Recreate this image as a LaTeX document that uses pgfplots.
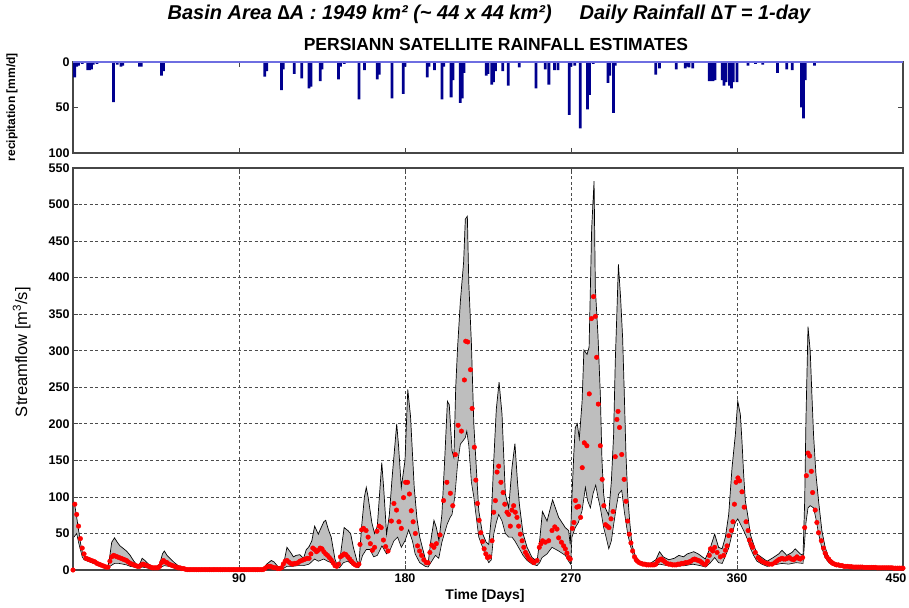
\documentclass[border=0pt]{standalone}
\usepackage{fontspec}
\setmainfont{Liberation Sans}
\setsansfont{Liberation Sans}
\usepackage{pgfplots}
\pgfplotsset{compat=1.18}
\usepgfplotslibrary{fillbetween}
\definecolor{barblue}{RGB}{0,0,143}
\definecolor{baseblue}{RGB}{110,110,225}
\definecolor{bandgray}{RGB}{190,190,190}
\definecolor{axgray}{RGB}{70,70,70}

\begin{document}
\begin{tikzpicture}
% header
\node at (489pt,593pt) {\bfseries\itshape\fontsize{20}{20}\selectfont Basin Area ∆A : 1949 km² (\textasciitilde{} 44 x 44 km²)\hspace{28pt}Daily Rainfall ∆T = 1-day};

% rainfall panel
\begin{axis}[
  at={(73pt,454pt)},anchor=south west,scale only axis,
  width=830pt,height=91pt,
  xmin=0,xmax=450,ymin=0,ymax=100,y dir=reverse,
  xtick={90,180,270,360},xticklabels={},
  ytick={0,50,100},
  tick align=inside,major tick length=5pt,
  tick style={axgray,line width=0.8pt},
  axis line style={axgray,line width=1.1pt},
  /pgf/number format/assume math mode=true,
  tick label style={font=\bfseries\fontsize{12.5}{13}\selectfont},
  ylabel={recipitation [mm/d]},
  ylabel style={font=\bfseries\fontsize{12}{12}\selectfont,at={(axis description cs:-0.0735,0.505)},anchor=center},
  title={PERSIANN SATELLITE RAINFALL ESTIMATES},
  title style={font=\bfseries\fontsize{17.5}{17.5}\selectfont,at={(axis description cs:0.5096,1)},anchor=center,yshift=12pt},
]
\addplot[ybar,bar width=1.5,fill=barblue,draw=none] coordinates {
(0,17) (1,17) (2,5) (3,4) (5,2) (8,9) (9,9) (10,8) (11,3) (13,2) (15,1) (18,1)
(22,44) (24,3) (26,5) (27,4) (36,5) (37,5) (48,15) (49,10)
(104,16) (105,10) (113,31) (114,8) (120,13) (124,18) (128,29) (129,27) (134,21) (135,8)
(144,19) (145,5) (147,2) (155,41) (158,9) (165,19) (166,14) (173,40) (179,35) (180,5)
(192,17) (193,5) (196,9) (200,41) (201,5) (205,39) (206,20) (210,45) (211,40) (212,12)
(224,15) (225,13) (227,25) (228,22) (229,10) (233,10) (236,26) (242,6) (251,29) (256,8)
(258,25) (261,9) (263,9) (269,58) (270,5) (272,4) (275,73) (279,52) (280,36) (282,2)
(290,23) (291,15) (293,56) (294,4) (316,14) (318,7) (327,8) (332,7) (333,5) (334,6) (336,7)
(345,21) (346,21) (347,21) (348,20) (352,20) (353,26) (354,22) (356,26) (357,29) (358,22) (360,22)
(366,4) (370,2) (374,3) (382,12) (387,8) (390,9) (395,50) (396,62) (397,20) (402,4)
};
\addplot[baseblue,line width=1.1pt,no marks] coordinates {(0,0) (450,0)};
\end{axis}

% streamflow panel
\begin{axis}[
  set layers,
  at={(73pt,37pt)},anchor=south west,scale only axis,
  width=830pt,height=402pt,
  xmin=0,xmax=450,ymin=0,ymax=550,
  xtick={90,180,270,360},
  extra x ticks={450},
  extra x tick style={grid=none,xticklabel style={xshift=-7pt}},
  ytick={0,50,100,150,200,250,300,350,400,450,500,550},
  grid=major,
  major grid style={black!70,dash pattern=on 3pt off 2.5pt,line width=0.8pt},
  tick align=inside,major tick length=5pt,
  tick style={axgray,line width=0.8pt},
  axis line style={axgray,line width=1.1pt},
  /pgf/number format/assume math mode=true,
  tick label style={font=\bfseries\fontsize{12.5}{13}\selectfont},
  xlabel={Time [Days]},
  xlabel style={font=\bfseries\fontsize{14}{14}\selectfont,at={(axis description cs:0.4964,0)},anchor=center,yshift=-26pt},
  ylabel={Streamflow [m\textsuperscript{3}/s]},
  ylabel style={font=\fontsize{16.5}{16.5}\selectfont,at={(axis description cs:-0.0618,0.542)},anchor=center},
  mark size=2.3pt,
]
\addplot[name path=up,black,line width=0.7pt,no marks] coordinates {
(0.5,90) (1,88) (2,72) (3,55) (4,38) (5,25) (6,19) (8,17) (10,15) (12,12) (14,9) (16,6) (18,4) (19,5)
(20,20) (21,38) (22.5,44) (24,38) (25.5,33) (27,30) (29,26) (31,20) (33,12) (35,6) (36.5,10) (37.5,16)
(39,13) (41,8) (43,5) (45,4) (47,8) (48.5,22) (49.5,26) (51,20) (53,15) (55,10) (57,6) (59,3) (61,1.5)
(65,1) (80,0.5) (100,0.5) (103,1) (105,8) (107.5,13) (109,11) (111,5) (113,3) (114.5,12) (116,31)
(118,24) (119.5,18) (121,20) (123,21) (125,16) (126.5,28) (128,32) (129.5,40) (131,60) (133,49)
(134,55) (136,66) (137,68) (138.5,55) (140,45) (142,15) (143,8) (144.5,8) (145.5,30) (147,58)
(149,54) (150.5,50) (152,31) (154,12) (155,8) (156.5,60) (158,100) (159,113) (160,100) (162,65)
(163.5,50) (165,60) (167.4,147) (168.5,110) (170,49) (171.5,75) (173,126) (175.5,200) (176.5,170)
(178,113) (180,150) (181.5,247) (183,210) (185,113) (186.5,70) (188,45) (189.5,30) (191,15)
(192.5,8) (194,40) (195.7,68) (197,58) (198.4,40) (200,76) (201.5,150) (203,231) (204,226)
(205.5,163) (206.5,154) (207.5,250) (208.5,304) (210,367) (211.8,422) (212.7,480) (213.8,484)
(214.6,392) (216,310) (217.3,200) (218.2,160) (220,81) (222,50) (224,38) (225.4,35) (226.8,72)
(228.1,149) (229.5,220) (231,257) (232.6,213) (234.4,104) (236.2,85) (238,140) (239.6,173)
(241,120) (242,90) (244,50) (246.2,31) (248.9,17) (251.6,12) (253,40) (254.5,80) (257,67)
(260,96) (263.3,72) (266.9,58) (268.7,54) (269.6,35) (270.5,100) (271.5,158) (272.3,195)
(273.4,200) (274.5,180) (276,230) (277,301) (278.7,295) (279.8,305) (280.5,385) (281.2,467)
(282.5,532) (283.2,385) (284.6,322) (285.9,240) (286.8,149) (287.7,104) (288.6,85) (290.4,75)
(291.9,122) (293.1,185) (294,285) (294.9,354) (295.7,418) (296.9,372) (298,317) (298.9,240)
(299.8,158) (300.7,104) (301.8,67) (303,35) (304.8,20) (307,12) (310,10) (313,9) (316,14)
(318,25) (320,18) (323,14) (326,16) (328.5,20) (331,18) (333,22) (336.5,25) (339,22) (342.8,15)
(345.6,31) (347.9,49) (350,31) (351.9,29) (353.7,45) (355.5,76) (357.3,140) (359.1,185)
(360.4,231) (361.8,213) (362.7,176) (363.6,131) (364.5,95) (366,72) (367.2,49) (369,35)
(370.8,22) (373.5,17) (376.3,12) (379,16) (382.6,22) (384.4,27) (387,20) (389.8,24) (391.6,29)
(394.3,22) (395.8,20) (396.7,95) (397.4,208) (398.5,333) (399.7,299) (400.6,240) (401.5,185)
(402.8,131) (404.2,95) (406,54) (407.8,31) (409.7,17) (413.3,9) (417,6) (426,4.5) (437,4) (449.5,3)
};
\addplot[name path=lo,black,line width=0.6pt,no marks] coordinates {
(0.5,45) (2,50) (3,38) (4,28) (5,18) (6,14) (8,12) (10,10) (12,8) (14,6) (16,4) (18,3) (20,5)
(22.5,9) (25,9) (27,8) (29,7) (31,5) (33,4) (35,3) (37.5,4) (40,3) (43,2) (45,2) (47,3) (49.5,6)
(52,5) (55,3) (58,2) (61,1) (65,0.5) (100,0.3) (104,0.5) (107.5,2) (111,1.5) (114,2) (116,5)
(119,5) (122,6) (125,6) (128,8) (131,15) (133,12) (136,15) (138,12) (140,10) (142,4) (144.5,3)
(146.6,10) (149,12) (152,6) (155,3) (157,20) (159,28) (161,28) (163,18) (165,20) (167.5,33)
(170,22) (172,28) (174,40) (176,45) (178,31) (180,40) (182,55) (184,40) (185.5,22) (188,10)
(191,5) (192.5,4) (194.5,12) (196.5,20) (198.3,16) (200,38) (202.9,63) (204.5,72) (205.5,76)
(207,100) (208.5,145) (210,172) (212.7,181) (213.5,190) (214.6,170) (216,120) (217.3,100)
(218.2,81) (220,45) (221.8,33) (223.6,20) (225.4,10) (226.8,14) (228.1,49) (229.5,65) (230.8,76)
(232.6,67) (234.4,50) (236.2,45) (238,45) (239.5,40) (242,29) (244,20) (246.2,13) (248.9,8)
(251.6,6) (253,10) (254.3,17) (257,22) (259.7,31) (263.3,26) (266.9,20) (268.7,12) (269.8,8)
(270.5,45) (272.3,58) (274,65) (276,81) (277.8,113) (279,95) (280.5,85) (282,105) (283.4,116)
(284.6,100) (285.9,85) (287.7,58) (289,45) (290.5,29) (291.9,40) (293,60) (294.5,85) (295.8,104)
(297.5,109) (298.9,80) (300.7,50) (302,35) (304,18) (306,10) (310,7) (315,5) (318,8) (322,6)
(327,5) (332,6) (336,8) (340,6) (343,4) (345.6,10) (347.9,17) (350,10) (352,9) (355.5,30)
(357.3,49) (359.1,65) (360.4,70) (362,62) (363.6,54) (366,40) (367.2,30) (369,20) (370.8,12)
(373.5,8) (376.3,5) (380,7) (384.4,9) (388,8) (392,10) (395.8,9) (396.7,40) (397.4,65) (398.5,85)
(399.7,88) (401.5,85) (402.8,70) (404.2,50) (406,30) (407.8,17) (409.7,10) (413.3,5) (417,4)
(426,3.5) (437,3) (449.5,2)
};
\addplot[fill=bandgray,draw=none] fill between[of=up and lo];
\addplot[only marks,mark=*,red,mark options={draw=red,fill=red}] coordinates {
(0,0) (1,90) (2,76) (3,60) (4,43) (5,30) (6,22) (7,16) (8,15) (9,14) (10,13) (11,12) (12,11) (13,9)
(14,8) (15,7) (16,6) (17,5) (18,4) (19,4) (20,12) (21,18) (22,20) (23,19) (24,18) (25,17) (26,16)
(27,15) (28,14) (29,13) (30,11) (31,9) (32,8) (33,7) (34,6) (35,5) (36,5) (37,7) (38,8) (39,7)
(40,6) (41,5) (42,4) (43,3) (44,3) (45,3) (46,3) (47,5) (48,10) (49,13) (50,11) (51,10) (52,8)
(53,7) (54,6) (55,5) (56,4) (57,3) (58,3) (59,2) (60,2) (61,1)
(62,0.5) (63,0.5) (64,0.5) (65,0.5) (66,0.5) (67,0.5) (68,0.5) (69,0.5) (70,0.5) (71,0.5)
(72,0.5) (73,0.5) (74,0.5) (75,0.5) (76,0.5) (77,0.5) (78,0.5) (79,0.5) (80,0.5) (81,0.5)
(82,0.5) (83,0.5) (84,0.5) (85,0.5) (86,0.5) (87,0.5) (88,0.5) (89,0.5) (90,0.5) (91,0.5)
(92,0.5) (93,0.5) (94,0.5) (95,0.5) (96,0.5) (97,0.5) (98,0.5) (99,0.5) (100,0.5) (101,0.5)
(102,0.5) (103,0.5)
(104,2) (105,4) (106,5) (107,5) (108,4) (109,3) (110,3) (111,2) (112,2) (113,3) (114,8) (115,12)
(116,13) (117,11) (118,9) (119,8) (120,9) (121,9) (122,10) (123,12) (124,13) (125,14) (126,15)
(127,16) (128,16) (129,22) (130,30) (131,28) (132,25) (133,27) (134,30) (135,29) (136,25)
(137,22) (138,20) (139,17) (140,14) (141,10) (142,6) (143,5) (144,8) (145,18) (146,20) (147,22)
(148,21) (149,18) (150,15) (151,12) (152,9) (153,7) (154,6) (155,8)
(155.6,35) (156.5,55) (157.5,57) (158.9,54) (160,45) (161.2,36) (162.3,27) (163.5,31) (164.8,53)
(166,60) (167.1,58) (168.3,41) (169.5,32) (170.8,26) (172.6,67) (174,91) (175.4,82) (176.7,66)
(178,57) (179.2,99) (180.3,120) (181.4,120) (182.4,104) (183.4,81) (184.4,66) (185.6,50)
(186.8,33) (187.9,26) (189,20) (190.2,14) (191.5,10) (192.5,10) (193.5,24) (194.5,34) (195.7,31)
(197,36) (199,48) (200.9,95) (202.7,120) (204.6,105) (205.9,88) (207.3,158) (208.8,198)
(210.6,190) (212.2,260) (212.9,313) (214,312) (215.5,274) (216.4,221) (217.6,168) (218.4,123)
(219.3,91) (220.2,68) (221.1,51) (222,39) (222.9,29) (223.8,22) (224.7,17) (225.8,18) (227.2,40)
(228.1,79) (229,95) (229.9,134) (230.8,142) (232,120) (233.2,106) (234.1,90) (235.3,79)
(236.2,76) (237.1,60) (238,82) (238.9,88) (239.8,79) (240.7,72) (241.6,60) (242.5,49) (243.5,40)
(244.4,31) (245.3,24) (246.2,20) (247.1,16) (248,14) (249,12) (249.9,10) (251.6,13) (252.8,31)
(253.7,36) (254.6,40) (256.1,38) (257.9,40) (259.7,54) (261.2,59) (262.4,56) (263.3,44)
(264.8,38) (266,33) (266.9,29) (267.8,23) (268.7,17) (269.6,15) (270.7,57) (271.6,65) (272.4,95)
(273.2,86) (274.2,87) (275.2,72) (276.1,140) (277.2,174) (278.6,170) (279.9,241) (281.1,344)
(282.2,374) (283.2,347) (283.9,291) (284.8,227) (285.9,170) (286.9,124) (287.8,88) (288.7,62)
(289.7,60) (290.6,58) (291.7,70) (292.8,80) (294,155) (294.9,206) (295.5,217) (296.3,195)
(297.5,158) (298.8,124) (299.8,94) (300.7,67) (301.6,49) (302.5,37) (303.4,26) (304.4,18)
(305.3,14) (306,12) (307,10) (308,9) (309,8) (310,8) (311,7) (312,7) (313,7) (314,7) (315,7)
(316,8) (317,12) (318,14) (319,15) (320,13) (321,11) (322,9) (323,8) (324,8) (325,7) (326,7)
(327,7) (328,8) (329,8) (330,9) (331,9) (332,10) (333,10) (334,11) (335,12) (336,14) (337,15)
(338,14) (339,13) (340,12) (341,10) (342,8) (343,8) (344,12) (345,20) (345.6,29) (346.8,26)
(347.9,31) (349.2,24) (351,18) (352.8,20) (353.7,27) (354.6,33) (355.5,47) (357,54) (357.8,66)
(358.6,90) (359.5,120) (360.5,126) (361.4,122) (362.7,107) (363.9,86) (364.9,66) (366,54)
(366.7,41) (367.6,35) (368.5,31) (369.9,24) (371.4,17) (372.5,14) (373.5,12) (375,10) (376.3,9)
(377.5,8) (379,8) (380.5,10) (381.5,12) (382.6,14) (383.5,15) (384.4,16) (385.3,15) (386.2,15)
(387.3,16) (388.4,17) (389.5,15) (390.7,14) (391.6,16) (392.5,18) (393.4,16) (394.3,15)
(395.6,17) (396.7,58) (397.6,129) (398.5,160) (399.4,156) (400.3,135) (401,106) (402.4,82)
(403.3,65) (404.2,51) (405.7,40) (406.9,30) (407.8,23) (408.7,18) (409.7,15) (410.6,12)
(411.5,10) (412,9) (413,8) (414,7) (415,7) (416,6) (417,6) (418,5) (419,5) (420,5) (421,4.5)
(422,4.5) (423,4) (424,4) (425,4) (426,4) (427,4) (428,4) (429,3.5) (430,3.5) (431,3.5)
(432,3.5) (433,3.5) (434,3.5) (435,3.5) (436,3) (437,3) (438,3) (439,3) (440,3) (441,3) (442,3)
(443,3) (444,3) (445,2.5) (446,2.5) (447,2.5) (448,2.5) (449,2.5) (450,2.5)
};
\end{axis}
\pgfresetboundingbox
\useasboundingbox (0pt,0pt) rectangle (909pt,607pt);
\end{tikzpicture}
\end{document}
